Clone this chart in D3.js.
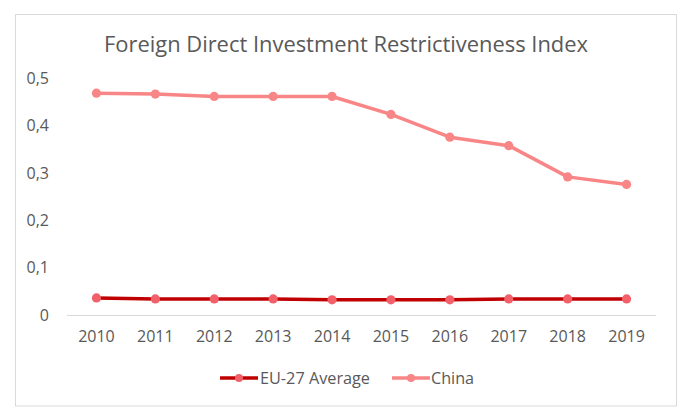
<!DOCTYPE html>
<html><head><meta charset="utf-8">
<script src="https://cdn.jsdelivr.net/npm/d3@7"></script>
<style>body{margin:0;background:#fff}svg{display:block}text{font-family:"Open Sans",sans-serif}</style>
</head><body><svg id="c" width="694" height="420"></svg>
<script>
const years = ["2010","2011","2012","2013","2014","2015","2016","2017","2018","2019"];
const euValues = [0.036,0.034,0.034,0.034,0.032,0.032,0.032,0.034,0.034,0.034];
const chinaValues = [0.469,0.467,0.462,0.462,0.462,0.424,0.376,0.358,0.292,0.276];
const yTicks = [0,0.1,0.2,0.3,0.4,0.5];
const seriesNames = ["EU-27 Average","China"];

const svg = d3.select("#c");
const textCol = "#595959";
svg.append("rect").attr("x",15.5).attr("y",14.5).attr("width",661).attr("height",391.5)
  .attr("fill","#fff").attr("stroke","#d9d9d9").attr("stroke-width",1);

svg.append("text").attr("x",104).attr("y",51.5).attr("text-anchor","start")
  .attr("font-size",22.5).attr("fill",textCol)
  .attr("textLength",484).attr("lengthAdjust","spacingAndGlyphs")
  .text("Foreign Direct Investment Restrictiveness Index");

const x = d3.scaleBand().domain(years).range([67,656]);
const y = d3.scaleLinear().domain([0,0.5]).range([315,78.5]);
const fmt = v => v===0 ? "0" : d3.format(".1f")(v).replace(".",",");

// baseline
svg.append("line").attr("x1",67).attr("x2",656).attr("y1",y(0)+0.5).attr("y2",y(0)+0.5)
  .attr("stroke","#d9d9d9").attr("stroke-width",1);

const yAxis = svg.append("g").attr("transform","translate(49,0)")
  .call(d3.axisLeft(y).tickValues(yTicks).tickFormat(fmt).tickSize(0).tickPadding(0));
yAxis.select(".domain").remove();
yAxis.selectAll("text").attr("font-size",16).attr("fill",textCol).attr("font-family","Open Sans");

const xAxis = svg.append("g").attr("transform",`translate(0,${y(0)+13})`)
  .call(d3.axisBottom(x).tickSize(0).tickPadding(0));
xAxis.select(".domain").remove();
xAxis.selectAll("text").attr("font-size",16).attr("fill",textCol).attr("font-family","Open Sans").attr("dy","0.85em");

const cx = d => x(d) + x.bandwidth()/2;
const series = [
  {name:seriesNames[0], values:euValues, line:"#C00000", marker:"#F26069"},
  {name:seriesNames[1], values:chinaValues, line:"#F98686", marker:"#F98686"}
];
const lineGen = d3.line().x((d,i)=>cx(years[i])).y(d=>y(d));
series.slice().reverse().forEach(s=>{
  const g = svg.append("g");
  g.append("path").datum(s.values).attr("d",lineGen).attr("fill","none")
    .attr("stroke",s.line).attr("stroke-width",3.5).attr("stroke-linejoin","round");
  g.selectAll("circle").data(s.values).join("circle")
    .attr("cx",(d,i)=>cx(years[i])).attr("cy",d=>y(d)).attr("r",4.6).attr("fill",s.marker);
});

// legend
const leg = [{s:series[0], x1:220, x2:258, tx:260, tl:110},{s:series[1], x1:392, x2:430, tx:431, tl:43}];
leg.forEach(l=>{
  svg.append("line").attr("x1",l.x1).attr("x2",l.x2).attr("y1",378).attr("y2",378)
    .attr("stroke",l.s.line).attr("stroke-width",3.5);
  svg.append("circle").attr("cx",(l.x1+l.x2)/2).attr("cy",378).attr("r",4).attr("fill",l.s.marker);
  svg.append("text").attr("x",l.tx).attr("y",378).attr("dy","0.35em").attr("font-size",16)
    .attr("textLength",l.tl).attr("lengthAdjust","spacingAndGlyphs")
    .attr("fill",textCol).text(l.s.name);
});
</script></body></html>
